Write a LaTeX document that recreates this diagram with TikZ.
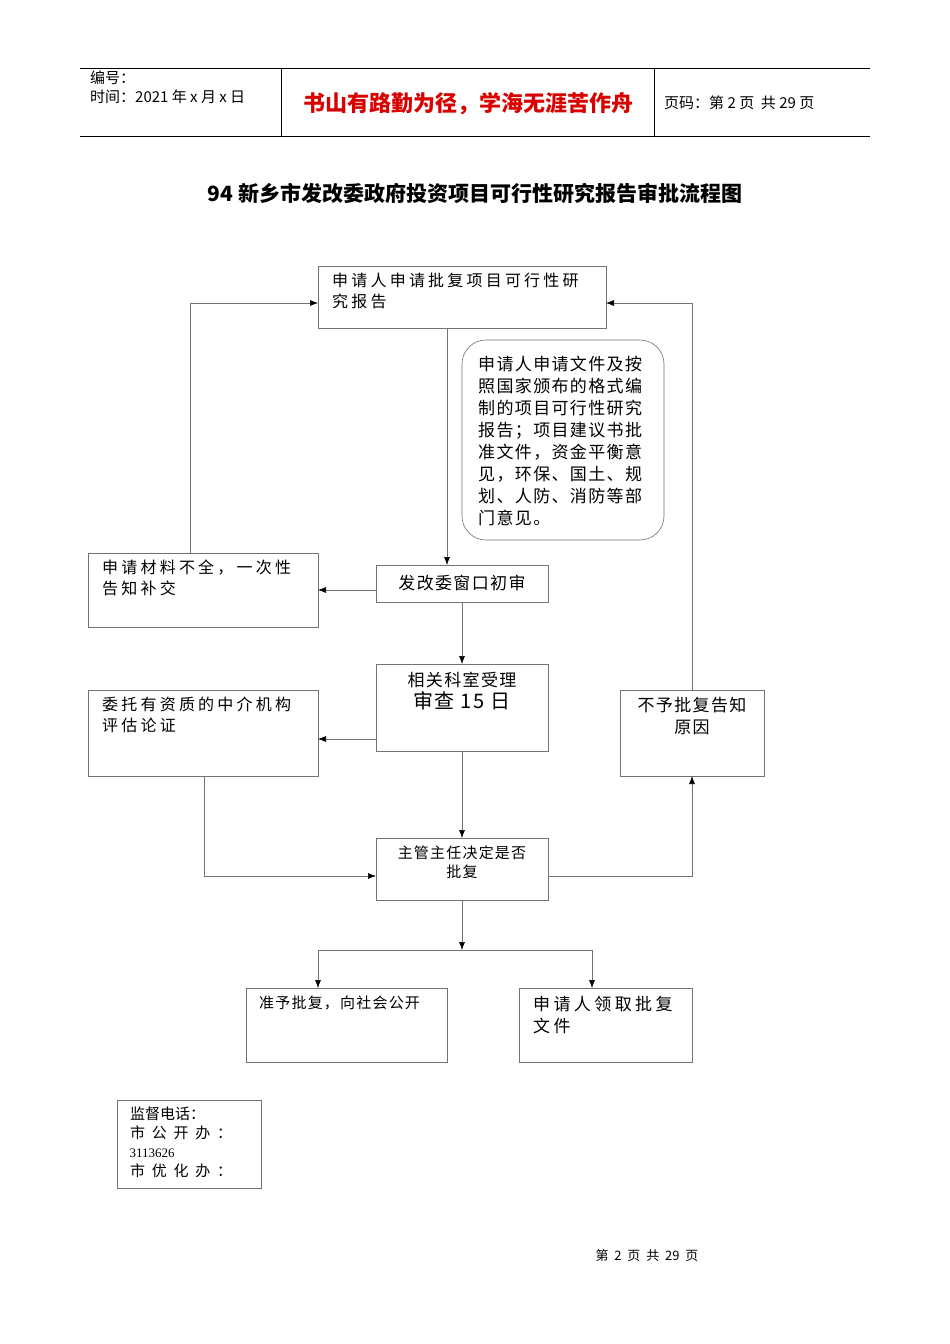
\documentclass[tikz,border=0pt]{standalone}
\usepackage{fontspec}
\setmainfont{Liberation Serif}
\newfontfamily\cjk{Noto Sans CJK SC}
\newfontfamily\cjks{Noto Sans CJK SC}[LetterSpace=20]
\newfontfamily\cjkm{Noto Sans CJK SC}[LetterSpace=8]
\usetikzlibrary{arrows.meta}
\begin{document}
\begin{tikzpicture}[x=1pt,y=-1pt,
 box/.style={draw=black!55,line width=0.6pt},
 con/.style={draw=black!55,line width=0.6pt},
 arr/.style={con,-{Latex[length=8pt,width=6pt,black]}},
 txt/.style={font=\cjks\fontsize{16}{21}\selectfont,align=left,inner sep=0pt}]
\useasboundingbox (0,0) rectangle (950,1344);
\fill[white] (0,0) rectangle (950,1344);
% header
\draw[line width=0.8pt] (80,68) -- (870,68) (80,136) -- (870,136) (281,68) -- (281,136) (654,68) -- (654,136);
\node[txt,anchor=north west,font=\cjk\fontsize{15}{19}\selectfont] (h1) at (90,71) {编号：\\时间：2021 年 x 月 x 日};
\node[txt,font=\cjk\bfseries\fontsize{22}{26}\selectfont,text=red!85!black] (h2) at (468,104) {书山有路勤为径，学海无涯苦作舟};
\node[txt,anchor=west,font=\cjk\fontsize{15}{19}\selectfont] (h3) at (664,103) {页码：第 2 页\ \ 共 29 页};
\node[txt,font=\cjk\bfseries\fontsize{21}{26}\selectfont] (title) at (475,193) {94 新乡市发改委政府投资项目可行性研究报告审批流程图};
% boxes
\draw[box] (318,266) rectangle (606,328);
\node[txt,anchor=north west] (At) at (332,273) {申请人申请批复项目可行性研\\究报告};
\draw[box,rounded corners=24pt] (462,340) rectangle (664,540);
\begin{scope}
\clip (462,345) rectangle (664,527);
\node[txt,anchor=north west,font=\cjkm\fontsize{17}{22}\selectfont] (N) at (478,356) {申请人申请文件及按\\照国家颁布的格式编\\制的项目可行性研究\\报告；项目建议书批\\准文件，资金平衡意\\见，环保、国土、规\\划、人防、消防等部\\门意见。};
\end{scope}
\draw[box] (376,565) rectangle (548,602);
\node[txt,font=\cjkm\fontsize{17}{21}\selectfont] (Bt) at (462,583) {发改委窗口初审};
\draw[box] (88,553) rectangle (318,627);
\node[txt,anchor=north west] (Ct) at (102,560) {申请材料不全，一次性\\告知补交};
\draw[box] (376,664) rectangle (548,751);
\node[txt,align=center,anchor=north,font=\cjkm\fontsize{17}{22}\selectfont] (Dt) at (462,672) {相关科室受理\\{\fontsize{20}{24}\selectfont 审查 15 日}};
\draw[box] (88,690) rectangle (318,776);
\node[txt,anchor=north west] (Et) at (102,697) {委托有资质的中介机构\\评估论证};
\draw[box] (620,690) rectangle (764,776);
\node[txt,align=center,anchor=north,font=\cjkm\fontsize{17}{22}\selectfont] (Ft) at (692,697) {不予批复告知\\原因};
\draw[box] (376,838) rectangle (548,900);
\node[txt,align=center,anchor=north,font=\cjkm\fontsize{15}{19}\selectfont] (Gt) at (462,846) {主管主任决定是否\\批复};
\draw[box] (246,988) rectangle (447,1062);
\node[txt,anchor=north west,font=\cjkm\fontsize{15}{19}\selectfont] (Ht) at (259,996) {准予批复，向社会公开};
\draw[box] (519,988) rectangle (692,1062);
\node[txt,anchor=north west,font=\cjks\fontsize{17}{22}\selectfont] (It) at (533,996) {申请人领取批复\\文件};
\draw[box] (117,1100) rectangle (261,1188);
\node[txt,anchor=north west,font=\cjk\fontsize{15}{19}\selectfont] (Jt) at (130,1107) {监督电话：\\市\ \ 公\ \ 开\ \ 办\ \ ：\\{\fontspec{Liberation Serif}\fontsize{13}{19}\selectfont\kern-0.5pt 3113626}\\市\ \ 优\ \ 化\ \ 办\ \ ：};
\node[txt,font=\cjk\fontsize{13}{15}\selectfont] (foot) at (647,1256) {第\ \ 2\ \ 页\ \ 共\ \ 29\ \ 页};
% connectors
\coordinate (a1) at (447,328); \coordinate (b1) at (447,565);
\draw[arr] (a1) -- (b1);
\coordinate (b2) at (376,590); \coordinate (c2) at (318,590);
\draw[arr] (b2) -- (c2);
\coordinate (c3) at (190,553); \coordinate (a3) at (318,303);
\draw[arr] (c3) |- (a3);
\coordinate (b4) at (462,602); \coordinate (d4) at (462,664);
\draw[arr] (b4) -- (d4);
\coordinate (d5) at (376,739); \coordinate (e5) at (318,739);
\draw[arr] (d5) -- (e5);
\coordinate (e6) at (204,776); \coordinate (g6) at (376,876);
\draw[arr] (e6) |- (g6);
\coordinate (d7) at (462,751); \coordinate (g7) at (462,838);
\draw[arr] (d7) -- (g7);
\coordinate (g8) at (548,876); \coordinate (f8) at (692,776);
\draw[arr] (g8) -| (f8);
\coordinate (f9) at (692,690); \coordinate (a9) at (606,303);
\draw[arr] (f9) |- (a9);
\coordinate (g10) at (462,900); \coordinate (s) at (462,950);
\draw[arr] (g10) -- (s);
\coordinate (h) at (318,988); \coordinate (i) at (592,988);
\draw[arr] (s) -| (h);
\draw[arr] (s) -| (i);
\end{tikzpicture}
\end{document}
